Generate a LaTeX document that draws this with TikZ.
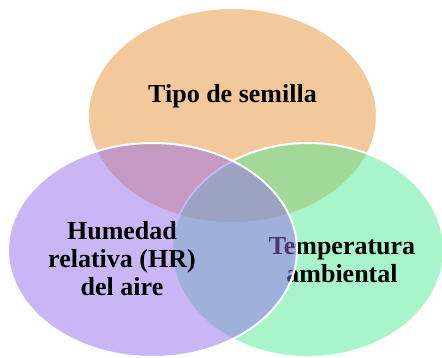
\documentclass[tikz,border=0pt]{standalone}
\usepackage{fontspec}
\setmainfont{Liberation Serif}

\definecolor{semilla}{RGB}{231,147,55}
\definecolor{humedad}{RGB}{150,108,235}
\definecolor{temper}{RGB}{81,235,151}

\begin{document}
\begin{tikzpicture}[x=1pt, y=-1pt,
    set/.style={draw=white, line width=2pt, fill opacity=0.5, draw opacity=1},
    lbl/.style={font=\bfseries\fontsize{26}{28}\selectfont, align=center, inner sep=0pt}]
  \useasboundingbox (0,0) rectangle (442,357);
  \coordinate (cT) at (232.5,115.5);
  \coordinate (cH) at (152.5,250);
  \coordinate (cA) at (308,250);
  % tipo de semilla
  \filldraw[set, fill=semilla] (cT) ellipse [x radius=144.5pt, y radius=107.5pt];
  \node[lbl, anchor=base] (T) at (232.5,102) {Tipo de semilla};
  % temperatura
  \filldraw[set, fill=temper] (cA) ellipse [x radius=136pt, y radius=107pt];
  \node[lbl] (A) at (342,260.5) {Temperatura\\ambiental};
  % humedad
  \filldraw[set, fill=humedad] (cH) ellipse [x radius=144.5pt, y radius=107pt];
  \node[lbl] (H) at (122,259) {Humedad\\relativa (HR)\\del aire};
\end{tikzpicture}
\end{document}
